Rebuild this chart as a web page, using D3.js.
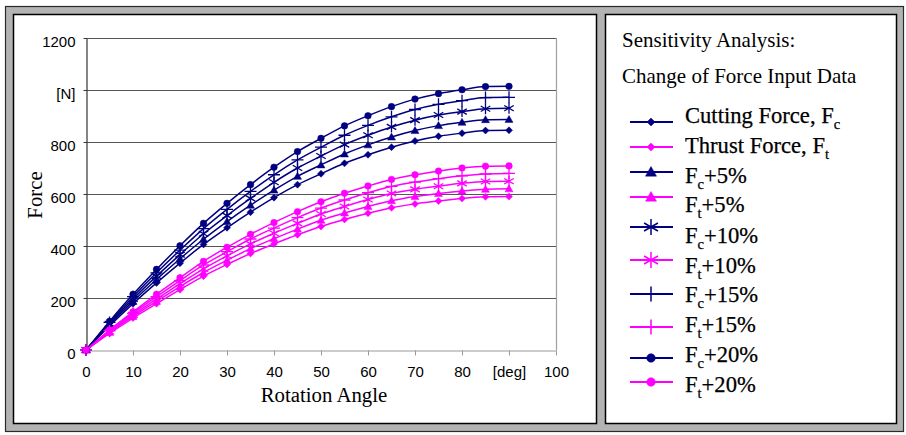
<!DOCTYPE html>
<html>
<head>
<meta charset="utf-8">
<script src="https://cdn.jsdelivr.net/npm/d3@7"></script>
<style>
  html, body { margin: 0; padding: 0; background: #ffffff; }
  svg { display: block; }
</style>
</head>
<body>
<svg id="chart" width="906" height="435"></svg>
<script>
// ---------------- DATA ----------------
const angles = [0, 5, 10, 15, 20, 25, 30, 35, 40, 45, 50, 55, 60, 65, 70, 75, 80, 85, 90];

const cuttingForce = [0, 92, 178, 258, 334, 406, 470, 530, 586, 636, 678, 718, 751, 780, 804, 822, 834, 844, 845];
const thrustForce  = [0, 64, 123, 178, 232, 284, 329, 371, 408, 443, 475, 502, 526, 547, 562, 573, 583, 589, 590];
const fcPlus5      = [0, 97, 187, 271, 351, 426, 494, 557, 615, 668, 712, 754, 789, 819, 844, 863, 876, 886, 887];
const ftPlus5      = [0, 67, 129, 187, 244, 298, 345, 390, 428, 465, 499, 527, 552, 574, 590, 602, 612, 618, 620];
const fcPlus10     = [0, 101, 196, 284, 367, 447, 517, 583, 645, 700, 746, 790, 826, 858, 884, 904, 917, 928, 930];
const ftPlus10     = [0, 70, 135, 196, 255, 312, 362, 408, 449, 487, 523, 552, 579, 602, 618, 630, 641, 648, 649];
const fcPlus15     = [0, 106, 205, 297, 384, 467, 541, 610, 674, 731, 780, 826, 864, 897, 925, 945, 959, 971, 972];
const ftPlus15     = [0, 74, 141, 205, 267, 327, 378, 427, 469, 509, 546, 577, 605, 629, 646, 659, 670, 677, 679];
const fcPlus20     = [0, 110, 214, 310, 401, 487, 564, 636, 703, 763, 814, 862, 901, 936, 965, 986, 1001, 1013, 1014];
const ftPlus20     = [0, 77, 147, 214, 278, 341, 395, 445, 490, 532, 570, 603, 631, 656, 674, 688, 700, 707, 708];

// legend label parts: [main, subscript, tail]
const seriesLabels = [
  ["Cutting Force, F", "c", ""],
  ["Thrust Force, F", "t", ""],
  ["F", "c", "+5%"],
  ["F", "t", "+5%"],
  ["F", "c", "+10%"],
  ["F", "t", "+10%"],
  ["F", "c", "+15%"],
  ["F", "t", "+15%"],
  ["F", "c", "+20%"],
  ["F", "t", "+20%"]
];
const seriesValues = [cuttingForce, thrustForce, fcPlus5, ftPlus5, fcPlus10, ftPlus10, fcPlus15, ftPlus15, fcPlus20, ftPlus20];
const seriesColors = ["#000080", "#ff00ff", "#000080", "#ff00ff", "#000080", "#ff00ff", "#000080", "#ff00ff", "#000080", "#ff00ff"];
const seriesMarkers = ["diamond", "diamond", "triangle", "triangle", "asterisk", "asterisk", "plus", "plus", "circle", "circle"];

const yTickValues = [0, 200, 400, 600, 800, 1000, 1200];
const yTickLabels = ["0", "200", "400", "600", "800", "[N]", "1200"];
const xTickValues = [0, 10, 20, 30, 40, 50, 60, 70, 80, 90, 100];
const xTickLabels = ["0", "10", "20", "30", "40", "50", "60", "70", "80", "[deg]", "100"];

const legendTitle = ["Sensitivity Analysis:", "Change of Force Input Data"];
const xAxisTitle = "Rotation Angle";
const yAxisTitle = "Force";

// ---------------- LAYOUT ----------------
const SANS = "'Liberation Sans', Arial, Helvetica, sans-serif";
const SERIF = "'Liberation Serif', 'Times New Roman', Times, serif";

const svg = d3.select("#chart");

// outer frame
svg.append("rect").attr("x", 5.5).attr("y", 6.5).attr("width", 898).attr("height", 425)
  .attr("fill", "#b3b3b3").attr("stroke", "#2a2a2a").attr("stroke-width", 1.2);
// panels
svg.append("rect").attr("x", 13.5).attr("y", 14.5).attr("width", 583).attr("height", 409)
  .attr("fill", "#ffffff").attr("stroke", "#000").attr("stroke-width", 1.5);
svg.append("rect").attr("x", 605.5).attr("y", 14.5).attr("width", 291).attr("height", 409)
  .attr("fill", "#ffffff").attr("stroke", "#000").attr("stroke-width", 1.5);

const x = d3.scaleLinear().domain([0, 100]).range([86, 556]);
const y = d3.scaleLinear().domain([0, 1200]).range([350, 38]);

// gridlines
const grid = svg.append("g");
grid.selectAll("line").data(yTickValues.filter(v => v > 0)).join("line")
  .attr("x1", x(0)).attr("x2", x(100))
  .attr("y1", d => Math.round(y(d)) + 0.5).attr("y2", d => Math.round(y(d)) + 0.5)
  .attr("stroke", "#555").attr("stroke-width", 1);
// right border of plot area
svg.append("line").attr("x1", x(100) + 0.5).attr("x2", x(100) + 0.5)
  .attr("y1", y(1200)).attr("y2", y(0)).attr("stroke", "#a0a0a0").attr("stroke-width", 1.2);

// x axis
const xAxis = d3.axisBottom(x).tickValues(xTickValues)
  .tickFormat((d, i) => xTickLabels[i]).tickSize(5).tickSizeOuter(0);
const gx = svg.append("g").attr("transform", `translate(0,${Math.round(y(0)) + 0.5})`).call(xAxis);
gx.select(".domain").attr("stroke", "#999").attr("stroke-width", 1.2);
gx.selectAll(".tick line").attr("stroke", "#999");
gx.selectAll(".tick text").attr("font-family", SANS).attr("font-size", 15)
  .attr("fill", "#000").attr("y", 16).attr("dy", "0.71em");

// y axis
const yAxis = d3.axisLeft(y).tickValues(yTickValues)
  .tickFormat((d, i) => yTickLabels[i]).tickSize(3).tickSizeOuter(0).tickPadding(8);
const gy = svg.append("g").attr("transform", `translate(${x(0) + 0.5},0)`).call(yAxis);
gy.select(".domain").attr("stroke", "#333").attr("stroke-width", 1.2);
gy.selectAll(".tick line").attr("stroke", "#333");
gy.selectAll(".tick text").attr("font-family", SANS).attr("font-size", 15)
  .attr("fill", "#000").attr("dy", "0.58em");

// axis titles
svg.append("text").attr("x", 324).attr("y", 402).attr("text-anchor", "middle")
  .attr("font-family", SERIF).attr("font-size", 20.8).text(xAxisTitle);
svg.append("text").attr("transform", "translate(42,195) rotate(-90)").attr("text-anchor", "middle")
  .attr("font-family", SERIF).attr("font-size", 20.8).text(yAxisTitle);

// marker path generator
function markerPath(type, s) {
  switch (type) {
    case "diamond": return `M0,${-s}L${s},0L0,${s}L${-s},0Z`;
    case "triangle": return `M0,${-s}L${s},${s * 0.75}L${-s},${s * 0.75}Z`;
    case "circle": return d3.symbol(d3.symbolCircle, Math.PI * s * s)();
    case "asterisk": {
      const a = s * Math.cos(Math.PI / 3), b = s * Math.sin(Math.PI / 3);
      return `M0,${-s}L0,${s}M${-b},${-a}L${b},${a}M${-b},${a}L${b},${-a}`;
    }
    case "plus": return `M0,${-s}L0,${s}M${-s},0L${s},0`;
  }
}
const plotMarkerSize = { diamond: 3.5, triangle: 4, circle: 3.3, asterisk: 5.5, plus: 6 };
const legendMarkerSize = { diamond: 4, triangle: 5.5, circle: 4.3, asterisk: 8, plus: 7.5 };
const filled = t => t === "diamond" || t === "triangle" || t === "circle";

// series
const line = d3.line().x((d, i) => x(angles[i])).y(d => y(d)).curve(d3.curveMonotoneX);
const seriesG = svg.append("g");
seriesValues.forEach((vals, k) => {
  const g = seriesG.append("g");
  g.append("path").datum(vals).attr("d", line).attr("fill", "none")
    .attr("stroke", seriesColors[k]).attr("stroke-width", 1.5);
  const m = seriesMarkers[k];
  g.selectAll("path.mk").data(vals).join("path").attr("class", "mk")
    .attr("transform", (d, i) => `translate(${x(angles[i])},${y(d)})`)
    .attr("d", markerPath(m, plotMarkerSize[m]))
    .attr("fill", filled(m) ? seriesColors[k] : "none")
    .attr("stroke", seriesColors[k]).attr("stroke-width", filled(m) ? 0.5 : 1.3);
});

// legend
svg.append("text").attr("x", 622).attr("y", 47).attr("font-family", SERIF).attr("font-size", 21)
  .text(legendTitle[0]);
svg.append("text").attr("x", 622).attr("y", 83).attr("font-family", SERIF).attr("font-size", 21)
  .text(legendTitle[1]);

const legendLineY = [122, 147, 172, 197, 227, 260, 294, 327, 358, 382];
const legendTextY = [123, 153, 183, 212, 243, 273, 302, 332, 362, 392];
const lg = svg.append("g");
seriesLabels.forEach((lab, k) => {
  const ly = legendLineY[k];
  lg.append("line").attr("x1", 630).attr("x2", 673).attr("y1", ly).attr("y2", ly)
    .attr("stroke", seriesColors[k]).attr("stroke-width", 2);
  const m = seriesMarkers[k];
  lg.append("path").attr("transform", `translate(651,${ly})`)
    .attr("d", markerPath(m, legendMarkerSize[m]))
    .attr("fill", filled(m) ? seriesColors[k] : "none")
    .attr("stroke", seriesColors[k]).attr("stroke-width", filled(m) ? 0.5 : 1.5);
  const t = lg.append("text").attr("x", 685).attr("y", legendTextY[k])
    .attr("font-family", SERIF).attr("font-size", 22.6).attr("fill", "#000")
    .attr("stroke", "#000").attr("stroke-width", 0.25);
  t.append("tspan").text(lab[0]);
  t.append("tspan").attr("font-size", 14.5).attr("dy", 6).text(lab[1]);
  if (lab[2]) t.append("tspan").attr("dy", -6).text(lab[2]);
});
</script>
</body>
</html>
